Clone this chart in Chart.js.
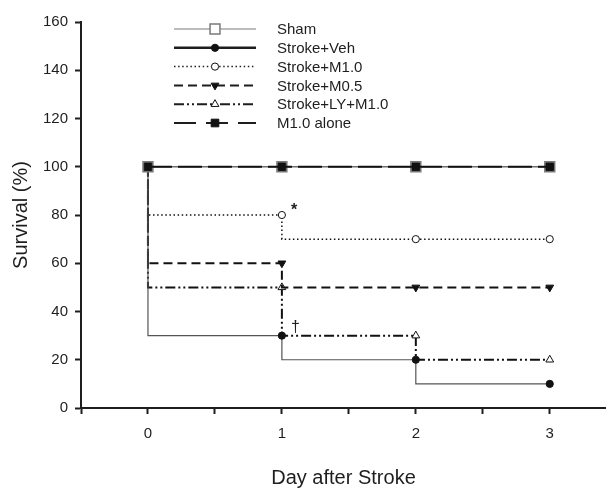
<!DOCTYPE html>
<html>
<head>
<meta charset="utf-8">
<script src="https://cdn.jsdelivr.net/npm/chart.js@4.4.0/dist/chart.umd.min.js"></script>
<style>
html, body { margin: 0; padding: 0; background: #fff; }
</style>
</head>
<body>
<canvas id="myChart" width="606" height="489"></canvas>
<script>
// survival values, one per day
const days = [0, 1, 2, 3];
const sham = [100, 100, 100, 100];
const strokeVeh = [100, 30, 20, 10];
const strokeM10 = [100, 80, 70, 70];
const strokeM05 = [100, 60, 50, 50];
const strokeLY = [100, 50, 30, 20];
const m10Alone = [100, 100, 100, 100];
const seriesNames = ['Sham', 'Stroke+Veh', 'Stroke+M1.0', 'Stroke+M0.5', 'Stroke+LY+M1.0', 'M1.0 alone'];
const yTicks = [0, 20, 40, 60, 80, 100, 120, 140, 160];
const xTickLabels = ['0', '1', '2', '3'];

const FONT = "'Liberation Sans', Arial, sans-serif";
const INK = '#1e1e1e';

function pts(vals) {
    return days.map((d, i) => ({ x: d, y: vals[i] }));
}

// line/marker styles per series (also used for the drawn legend)
const styles = [
    { color: '#6e6e6e', width: 1.4, dash: [], marker: 'rect', r: 7, fill: '#fff', mborder: '#7a7a7a', mwidth: 1.5, order: 1,
      legend: { color: '#7a7a7a', width: 1.2, dash: [] } },
    { color: '#555', width: 1.2, dash: [], marker: 'circle', r: 3.6, fill: '#111', mborder: '#111', mwidth: 1, order: 2,
      legend: { color: INK, width: 2.5, dash: [] } },
    { color: '#111', width: 1.5, dash: [1.5, 2.6], marker: 'circle', r: 3.6, fill: '#fff', mborder: '#111', mwidth: 1, order: 2,
      legend: { color: INK, width: 1.5, dash: [1.5, 2.6] } },
    { color: '#111', width: 2, dash: [9, 5], marker: 'triangleDown', r: 4.5, fill: '#111', mborder: '#111', mwidth: 1, order: 2,
      legend: { color: INK, width: 2, dash: [9, 5] } },
    { color: '#111', width: 2, dash: [10, 3, 2, 3, 2, 3], marker: 'triangle', r: 4.5, fill: '#fff', mborder: '#111', mwidth: 1, order: 2,
      legend: { color: INK, width: 2, dash: [10, 3, 2, 3, 2, 3] } },
    { color: '#111', width: 2, dash: [24, 6], marker: 'rect', r: 5.4, fill: '#111', mborder: '#111', mwidth: 1, order: 0,
      legend: { color: INK, width: 2.2, dash: [22, 10] } }
];
const seriesValues = [sham, strokeVeh, strokeM10, strokeM05, strokeLY, m10Alone];

const datasets = seriesValues.map((vals, i) => {
    const s = styles[i];
    return {
        label: seriesNames[i],
        data: pts(vals),
        stepped: 'after',
        borderColor: s.color,
        borderWidth: s.width,
        borderDash: s.dash,
        fill: false,
        pointStyle: s.marker === 'triangleDown' ? 'triangle' : s.marker,
        rotation: s.marker === 'triangleDown' ? 180 : 0,
        pointRadius: s.r,
        pointBackgroundColor: s.fill,
        pointBorderColor: s.mborder,
        pointBorderWidth: s.mwidth,
        order: s.order
    };
});

function drawMarker(ctx, type, x, y, r, fill, stroke, lw) {
    ctx.save();
    ctx.setLineDash([]);
    ctx.fillStyle = fill;
    ctx.strokeStyle = stroke;
    ctx.lineWidth = lw;
    ctx.beginPath();
    if (type === 'rect') {
        const s = r * Math.SQRT1_2;
        ctx.rect(x - s, y - s, 2 * s, 2 * s);
    } else if (type === 'circle') {
        ctx.arc(x, y, r, 0, Math.PI * 2);
    } else {
        const dir = type === 'triangleDown' ? -1 : 1;
        ctx.moveTo(x, y - dir * r);
        ctx.lineTo(x - r * 0.866, y + dir * r * 0.5);
        ctx.lineTo(x + r * 0.866, y + dir * r * 0.5);
        ctx.closePath();
    }
    ctx.fill();
    ctx.stroke();
    ctx.restore();
}

const overlay = {
    id: 'overlay',
    afterDraw(chart) {
        const ctx = chart.ctx;
        const xs = chart.scales.x, ys = chart.scales.y;
        // legend inside the plot
        const x0 = 174, x1 = 256, xm = 215, xt = 277;
        seriesNames.forEach((name, i) => {
            const y = 29 + i * 18.8;
            const s = styles[i];
            ctx.save();
            ctx.strokeStyle = s.legend.color;
            ctx.lineWidth = s.legend.width;
            ctx.setLineDash(s.legend.dash);
            ctx.beginPath();
            ctx.moveTo(x0, y);
            ctx.lineTo(x1, y);
            ctx.stroke();
            ctx.restore();
            drawMarker(ctx, s.marker, xm, y, s.r, s.fill, s.mborder, s.mwidth);
            ctx.save();
            ctx.fillStyle = INK;
            ctx.font = '15px ' + FONT;
            ctx.textBaseline = 'middle';
            ctx.fillText(name, xt, y + 1);
            ctx.restore();
        });
        // significance marks
        ctx.save();
        ctx.fillStyle = INK;
        ctx.font = 'bold 16px ' + FONT;
        ctx.textBaseline = 'middle';
        ctx.fillText('*', xs.getPixelForValue(1) + 9, ys.getPixelForValue(80) - 4);
        ctx.font = '16px ' + FONT;
        ctx.fillText('\u2020', xs.getPixelForValue(1) + 9, ys.getPixelForValue(30) - 8);
        ctx.restore();
    }
};

const ctx = document.getElementById('myChart').getContext('2d');
const myChart = new Chart(ctx, {
    type: 'line',
    data: { datasets: datasets },
    plugins: [overlay],
    options: {
        responsive: false,
        animation: false,
        devicePixelRatio: 1,
        layout: { autoPadding: false, padding: { top: 22, right: 0, bottom: 0, left: 0 } },
        plugins: { legend: { display: false }, tooltip: { enabled: false } },
        scales: {
            x: {
                type: 'linear',
                min: -0.5,
                max: 3.42,
                afterFit(scale) { scale.height = 81; scale.paddingLeft = 0; scale.paddingRight = 0; },
                afterBuildTicks(scale) {
                    scale.ticks = scale.ticks.filter(t => Math.abs(t.value * 2 - Math.round(t.value * 2)) < 1e-6);
                },
                border: { color: INK, width: 2 },
                grid: { drawOnChartArea: false, tickLength: 6, tickWidth: 2, tickColor: INK },
                ticks: {
                    stepSize: 0.5,
                    autoSkip: false,
                    maxRotation: 0,
                    padding: 11,
                    color: INK,
                    font: { family: FONT, size: 15 },
                    callback: v => (Number.isInteger(v) ? xTickLabels[v] : '')
                },
                title: {
                    display: true,
                    text: 'Day after Stroke',
                    color: INK,
                    font: { family: FONT, size: 20, lineHeight: 1.1 },
                    padding: { top: 0, bottom: 0 }
                }
            },
            y: {
                min: yTicks[0],
                max: yTicks[yTicks.length - 1],
                afterFit(scale) { scale.width = 81; scale.paddingTop = 0; scale.paddingBottom = 0; },
                afterBuildTicks(scale) { scale.ticks = yTicks.map(v => ({ value: v })); },
                border: { color: INK, width: 2 },
                grid: { drawOnChartArea: false, tickLength: 6, tickWidth: 2, tickColor: INK },
                ticks: {
                    padding: 7,
                    color: INK,
                    font: { family: FONT, size: 15 }
                },
                title: {
                    display: true,
                    text: 'Survival (%)',
                    color: INK,
                    font: { family: FONT, size: 20, lineHeight: 1.2 },
                    padding: { top: 9, bottom: 0 }
                }
            }
        }
    }
});
</script>
</body>
</html>
